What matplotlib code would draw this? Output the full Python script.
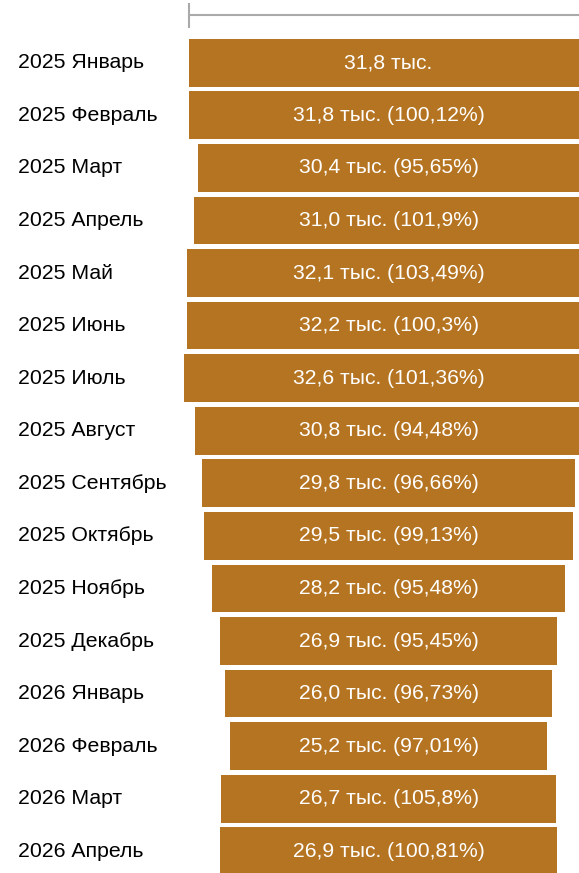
import numpy as np
import matplotlib.pyplot as plt

plt.rcParams['font.family'] = ['Liberation Sans', 'DejaVu Sans']

# data
months = ['2025 Январь', '2025 Февраль', '2025 Март', '2025 Апрель', '2025 Май',
          '2025 Июнь', '2025 Июль', '2025 Август', '2025 Сентябрь', '2025 Октябрь',
          '2025 Ноябрь', '2025 Декабрь', '2026 Январь', '2026 Февраль', '2026 Март',
          '2026 Апрель']
values = [31.8, 31.8, 30.4, 31.0, 32.1, 32.2, 32.6, 30.8, 29.8, 29.5,
          28.2, 26.9, 26.0, 25.2, 26.7, 26.9]
pct = [None, '100,12', '95,65', '101,9', '103,49', '100,3', '101,36', '94,48',
       '96,66', '99,13', '95,48', '95,45', '96,73', '97,01', '105,8', '100,81']

bar_color = '#B57421'

fig = plt.figure(figsize=(5.79, 8.73), dpi=100)
ax = fig.add_axes([0, 0, 1, 1])

y = np.arange(len(values))
vals = np.array(values)
ax.barh(y, vals, left=-vals / 2, height=0.907, color=bar_color)

for i, (v, p) in enumerate(zip(values, pct)):
    txt = f"{v:.1f}".replace('.', ',') + ' тыс.'
    if p is not None:
        txt += f' ({p}%)'
    ax.text(0, i, txt, ha='center', va='center', color='white', fontsize=15.2)

# category labels on the left
for i, m in enumerate(months):
    ax.text(-29.55, i, m, ha='left', va='center', color='black', fontsize=15.3)

# value axis line at the top
ax.plot([-values[0] / 2, 20], [-0.908, -0.908], color='#aaaaaa', lw=1.5, clip_on=True)
ax.plot([-values[0] / 2, -values[0] / 2], [-1.118, -0.680], color='#aaaaaa', lw=1.5)

ax.set_xlim(-30.98, 15.19)
ax.set_ylim(15.413, -1.194)
ax.axis('off')

plt.savefig('out.png', dpi=100)
